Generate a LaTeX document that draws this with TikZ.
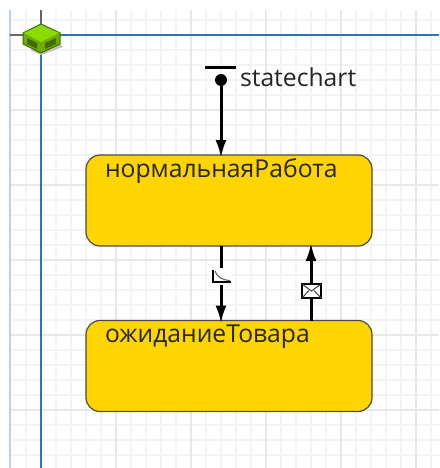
\documentclass[tikz,border=0pt]{standalone}
\usepackage{fontspec}
\usepackage{xcolor}
\usetikzlibrary{arrows.meta,positioning}
\setmainfont{Open Sans}
\definecolor{stategold}{HTML}{FFD500}
\definecolor{axisblue}{HTML}{2F74B5}
\definecolor{marginblue}{HTML}{BCD0E6}
\definecolor{gridminor}{HTML}{F4F4F4}
\definecolor{gridmajor}{HTML}{E8E8E8}
\definecolor{cubetop}{HTML}{8ADB00}
\definecolor{cubeside}{HTML}{6FAE00}
\definecolor{cubedark}{HTML}{3F6B00}

\begin{document}
\begin{tikzpicture}[x=1pt,y=-1pt,
	every node/.style={inner sep=0pt,outer sep=0pt},
	statebox/.style={draw=black!70,line width=1.2pt,fill=stategold,rounded corners=14pt,minimum width=286pt,minimum height=91pt},
	statelabel/.style={font=\fontsize{24.7pt}{28pt}\selectfont,anchor=base west,text=black!85},
	transition/.style={line width=3pt,shorten >=-3pt,-{Latex[length=18pt,width=11pt]}},
	iconbox/.style={fill=white,minimum width=22pt,minimum height=17pt}]
	\useasboundingbox (0,0) rectangle (439,468);
	\fill[white] (0,0) rectangle (439,468);

	% grid
	\foreach \gx in {26,41,...,439} {\draw[gridminor,line width=1.3pt] (\gx,10) -- (\gx,468);}
	\foreach \gy in {20,35,...,468} {\draw[gridminor,line width=1.3pt] (10,\gy) -- (439,\gy);}
	\foreach \gx in {116,191,266,341,416} {\draw[gridmajor,line width=1.3pt] (\gx,10) -- (\gx,468);}
	\foreach \gy in {110,185,260,335,410} {\draw[gridmajor,line width=1.3pt] (10,\gy) -- (439,\gy);}
	\draw[marginblue,line width=1.5pt] (10,10) -- (10,468);

	% axes
	\draw[axisblue,line width=1.8pt] (41,35) -- (41,468);
	\draw[axisblue,line width=1.8pt] (41,35) -- (439,35);
	\draw[black!60,line width=1.2pt] (41,10) -- (41,24);
	\draw[black!60,line width=1.2pt] (10,35) -- (23,35);

	% origin cube
	\fill[black!25] (30,50) -- (41,55) -- (63,47) -- (58,43) -- cycle;
	\draw[cubedark,line width=1pt,fill=cubeside] (23,33) -- (41,24) -- (60,33) -- (60,44) -- (41,53) -- (23,44) -- cycle;
	\fill[cubetop] (24,33) -- (41,25) -- (59,33) -- (41,42) -- cycle;
	\fill[cubedark] (27,38) -- (37,43) -- (37,49) -- (27,44) -- cycle;
	\fill[cubedark] (45,43) -- (56,38) -- (56,44) -- (45,49) -- cycle;

	% states
	\node[statebox] (normal) at (229,200.5) {};
	\node[statebox] (waiting) at (229,366) {};
	\node[statelabel] (normalLabel) at (105,177) {нормальнаяРабота};
	\node[statelabel] (waitingLabel) at (105,342) {ожиданиеТовара};

	% entry point
	\node[circle,fill=black,minimum size=12pt] (entry) at (221,80) {};
	\coordinate (barLeft) at (205,68);
	\coordinate (barRight) at (236,68);
	\draw[line width=3pt] (barLeft) -- (barRight);
	\node[statelabel] (chartLabel) at (240,87) {statechart};
	\draw[transition] (entry) -- (entry |- normal.north);

	% transitions
	\coordinate (timeoutStart) at (221,246);
	\coordinate (messageStart) at (311,321);
	\draw[transition] (timeoutStart) -- (timeoutStart |- waiting.north);
	\draw[transition] (messageStart) -- (messageStart |- normal.south);

	% timeout icon
	\node[iconbox] (timeoutIcon) at (221,276.5) {};
	\draw[line width=1.6pt] (213,270) -- (213,282) -- (231,282);
	\draw[black!65,line width=1pt] (215,271) .. controls (217,277) and (222,280) .. (230,280.5);

	% message icon
	\node[iconbox,draw=black,line width=1.6pt,minimum width=19pt,minimum height=14pt] (messageIcon) at (311.5,291) {};
	\draw[black!75,line width=1pt] (messageIcon.north west) -- (messageIcon.center) -- (messageIcon.north east);
	\draw[black!75,line width=1pt] (messageIcon.south west) -- (309,290.5);
	\draw[black!75,line width=1pt] (messageIcon.south east) -- (314,290.5);
\end{tikzpicture}
\end{document}
